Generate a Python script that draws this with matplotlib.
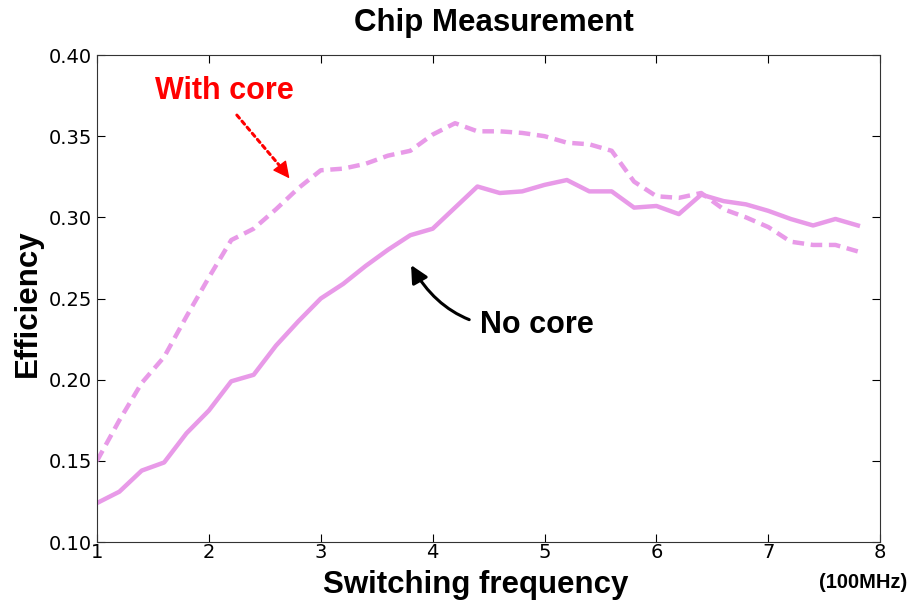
import matplotlib
matplotlib.use('Agg')
import matplotlib.pyplot as plt
import numpy as np

# switching frequency in units of 100 MHz
freq = [1.0, 1.2, 1.4, 1.6, 1.8, 2.0, 2.2, 2.4, 2.6, 2.8, 3.0, 3.2, 3.4, 3.6, 3.8,
        4.0, 4.2, 4.4, 4.6, 4.8, 5.0, 5.2, 5.4, 5.6, 5.8, 6.0, 6.2, 6.4, 6.6, 6.8,
        7.0, 7.2, 7.4, 7.6, 7.8]

no_core = [0.124, 0.131, 0.144, 0.149, 0.167, 0.181, 0.199, 0.203, 0.221, 0.236,
           0.250, 0.259, 0.270, 0.280, 0.289, 0.293, 0.306, 0.319, 0.315, 0.316,
           0.320, 0.323, 0.316, 0.316, 0.306, 0.307, 0.302, 0.314, 0.310, 0.308,
           0.304, 0.299, 0.295, 0.299, 0.295]

with_core = [0.150, 0.175, 0.198, 0.214, 0.239, 0.263, 0.286, 0.293, 0.305, 0.318,
             0.329, 0.330, 0.333, 0.338, 0.341, 0.351, 0.358, 0.353, 0.353, 0.352,
             0.350, 0.346, 0.345, 0.341, 0.322, 0.313, 0.312, 0.315, 0.305, 0.300,
             0.294, 0.285, 0.283, 0.283, 0.279]

yticks = [0.10, 0.15, 0.20, 0.25, 0.30, 0.35, 0.40]
line_color = '#e89ae8'
bold = dict(family='Liberation Sans', fontweight='bold')

fig = plt.figure(figsize=(9.15, 6.06), dpi=100)
ax = fig.add_axes([0.106, 0.1056, 0.856, 0.8036])

ax.plot(freq, no_core, color=line_color, lw=3.2)
ax.plot(freq, with_core, color=line_color, lw=3.2, ls=(0, (2.6, 1.5)))

ax.set_xlim(1, 8)
ax.set_ylim(0.10, 0.40)
ax.set_xticks(range(1, 9))
ax.set_yticks(yticks)
ax.set_yticklabels(['%.2f' % v for v in yticks])
ax.tick_params(direction='in', top=True, right=True, length=6, labelsize=14)
ax.tick_params(axis='x', pad=1)
for sp in ax.spines.values():
    sp.set_color('#333333')

ax.set_title('Chip Measurement', fontsize=22.5, pad=17, **bold)
ax.title.set_x(0.507)
ax.set_xlabel('Switching frequency', fontsize=22.5, labelpad=0, **bold)
ax.xaxis.set_label_coords(0.483, -0.058)
ax.set_ylabel('Efficiency', fontsize=22.5, labelpad=4, **bold)
ax.yaxis.label.set_y(0.49)
fig.text(0.943, 0.038, '(100MHz)', fontsize=14.5, ha='center', va='center', **bold)

# "With core": dotted red arrow with a solid head
ax.text(2.135, 0.378, 'With core', color='red', fontsize=22, ha='center', va='center', **bold)
ax.annotate('', xy=(2.63, 0.332), xytext=(2.25, 0.363),
            arrowprops=dict(arrowstyle='-', color='red', lw=2.2, ls=(0, (1.3, 1.3)),
                            shrinkA=0, shrinkB=0))
ax.annotate('', xy=(2.72, 0.324), xytext=(2.62, 0.333),
            arrowprops=dict(arrowstyle='-|>', color='red', lw=1,
                            mutation_scale=26, shrinkA=0, shrinkB=0))

ax.annotate('No core', xy=(3.807, 0.2706), xytext=(4.93, 0.2336),
            color='black', fontsize=22, ha='center', va='center', **bold,
            arrowprops=dict(arrowstyle='-|>', color='black', lw=2.2,
                            mutation_scale=26, shrinkA=6, shrinkB=0,
                            connectionstyle='arc3,rad=-0.35'))

fig.savefig('out.png', dpi=100)
